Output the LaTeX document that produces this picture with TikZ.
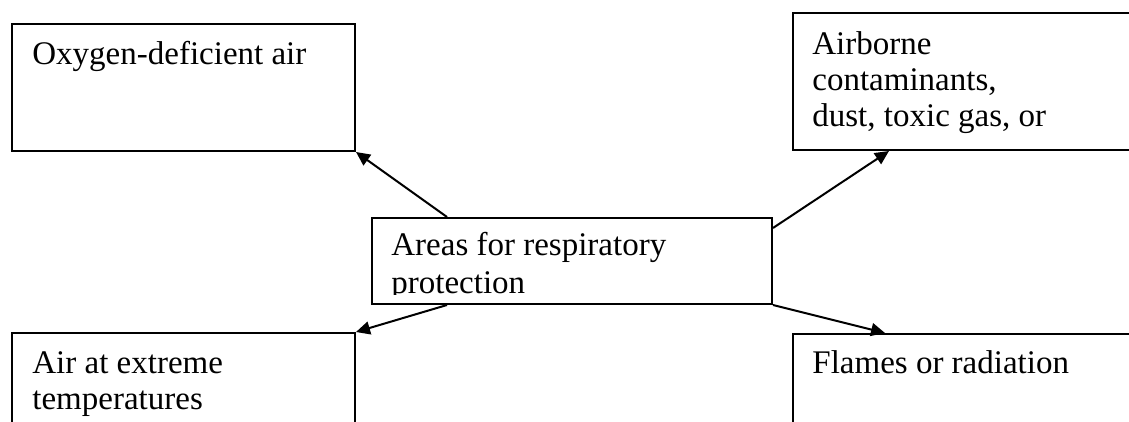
\documentclass[tikz,border=0pt]{standalone}
\usepackage{fontspec}
\setmainfont{Liberation Serif}
\usetikzlibrary{arrows.meta,calc}

\begin{document}
\begin{tikzpicture}[x=0.5pt,y=-0.5pt,
  box/.style={draw=black, line width=1pt, rectangle, inner sep=0pt, anchor=north west},
  label/.style={anchor=base west, inner sep=0pt, text=black,
    font=\fontsize{16.5pt}{18pt}\selectfont},
  link/.style={line width=1pt, -{Triangle[length=7pt,width=6.5pt]}}]

  \useasboundingbox (0,0) rectangle (1129,422);
  \clip (0,0) rectangle (1129,422);

  % outer boxes (right and bottom ones run past the page edge)
  \node[box, minimum width=171.5pt, minimum height=63.5pt] (tl) at (11,23) {};
  \node[box, minimum width=190pt,   minimum height=68.5pt] (tr) at (792,12) {};
  \node[box, minimum width=171.5pt, minimum height=70pt]   (bl) at (11,332) {};
  \node[box, minimum width=190pt,   minimum height=70pt]   (br) at (792,333) {};

  % central box
  \node[box, minimum width=200pt, minimum height=43pt] (ce) at (371,217) {};

  % box texts
  \node[label] (tltext) at (32,65) {Oxygen-deficient air};
  \node[label] (trtext) at (812,55)
    {\begin{tabular}[t]{@{}l@{}}Airborne\\ contaminants,\\ dust, toxic gas, or\end{tabular}};
  \node[label] (bltext) at (32,373)
    {\begin{tabular}[t]{@{}l@{}}Air at extreme\\ temperatures\end{tabular}};
  \node[label] (brtext) at (812,373) {Flames or radiation};
  \begin{scope}
    % the second line is cut at its baseline by the text area
    \clip (371,217) rectangle (771,294);
    \node[label] (cetext) at (391,256)
      {\begin{tabular}[t]{@{}l@{}}Areas for respiratory\\[1pt] protection\end{tabular}};
  \end{scope}

  % connectors from the central box
  \coordinate (s1) at ($(ce.north west)+(76,0)$);
  \coordinate (s2) at ($(ce.north east)+(0,11)$);
  \coordinate (s3) at ($(ce.south west)+(76,0)$);
  \coordinate (e2) at ($(tr.south west)+(97,0)$);
  \coordinate (e4) at ($(br.north west)+(93,0)$);

  \draw[link] (s1) -- (tl.south east);
  \draw[link] (s2) -- (e2);
  \draw[link] (s3) -- (bl.north east);
  \draw[link] (ce.south east) -- (e4);
\end{tikzpicture}
\end{document}
